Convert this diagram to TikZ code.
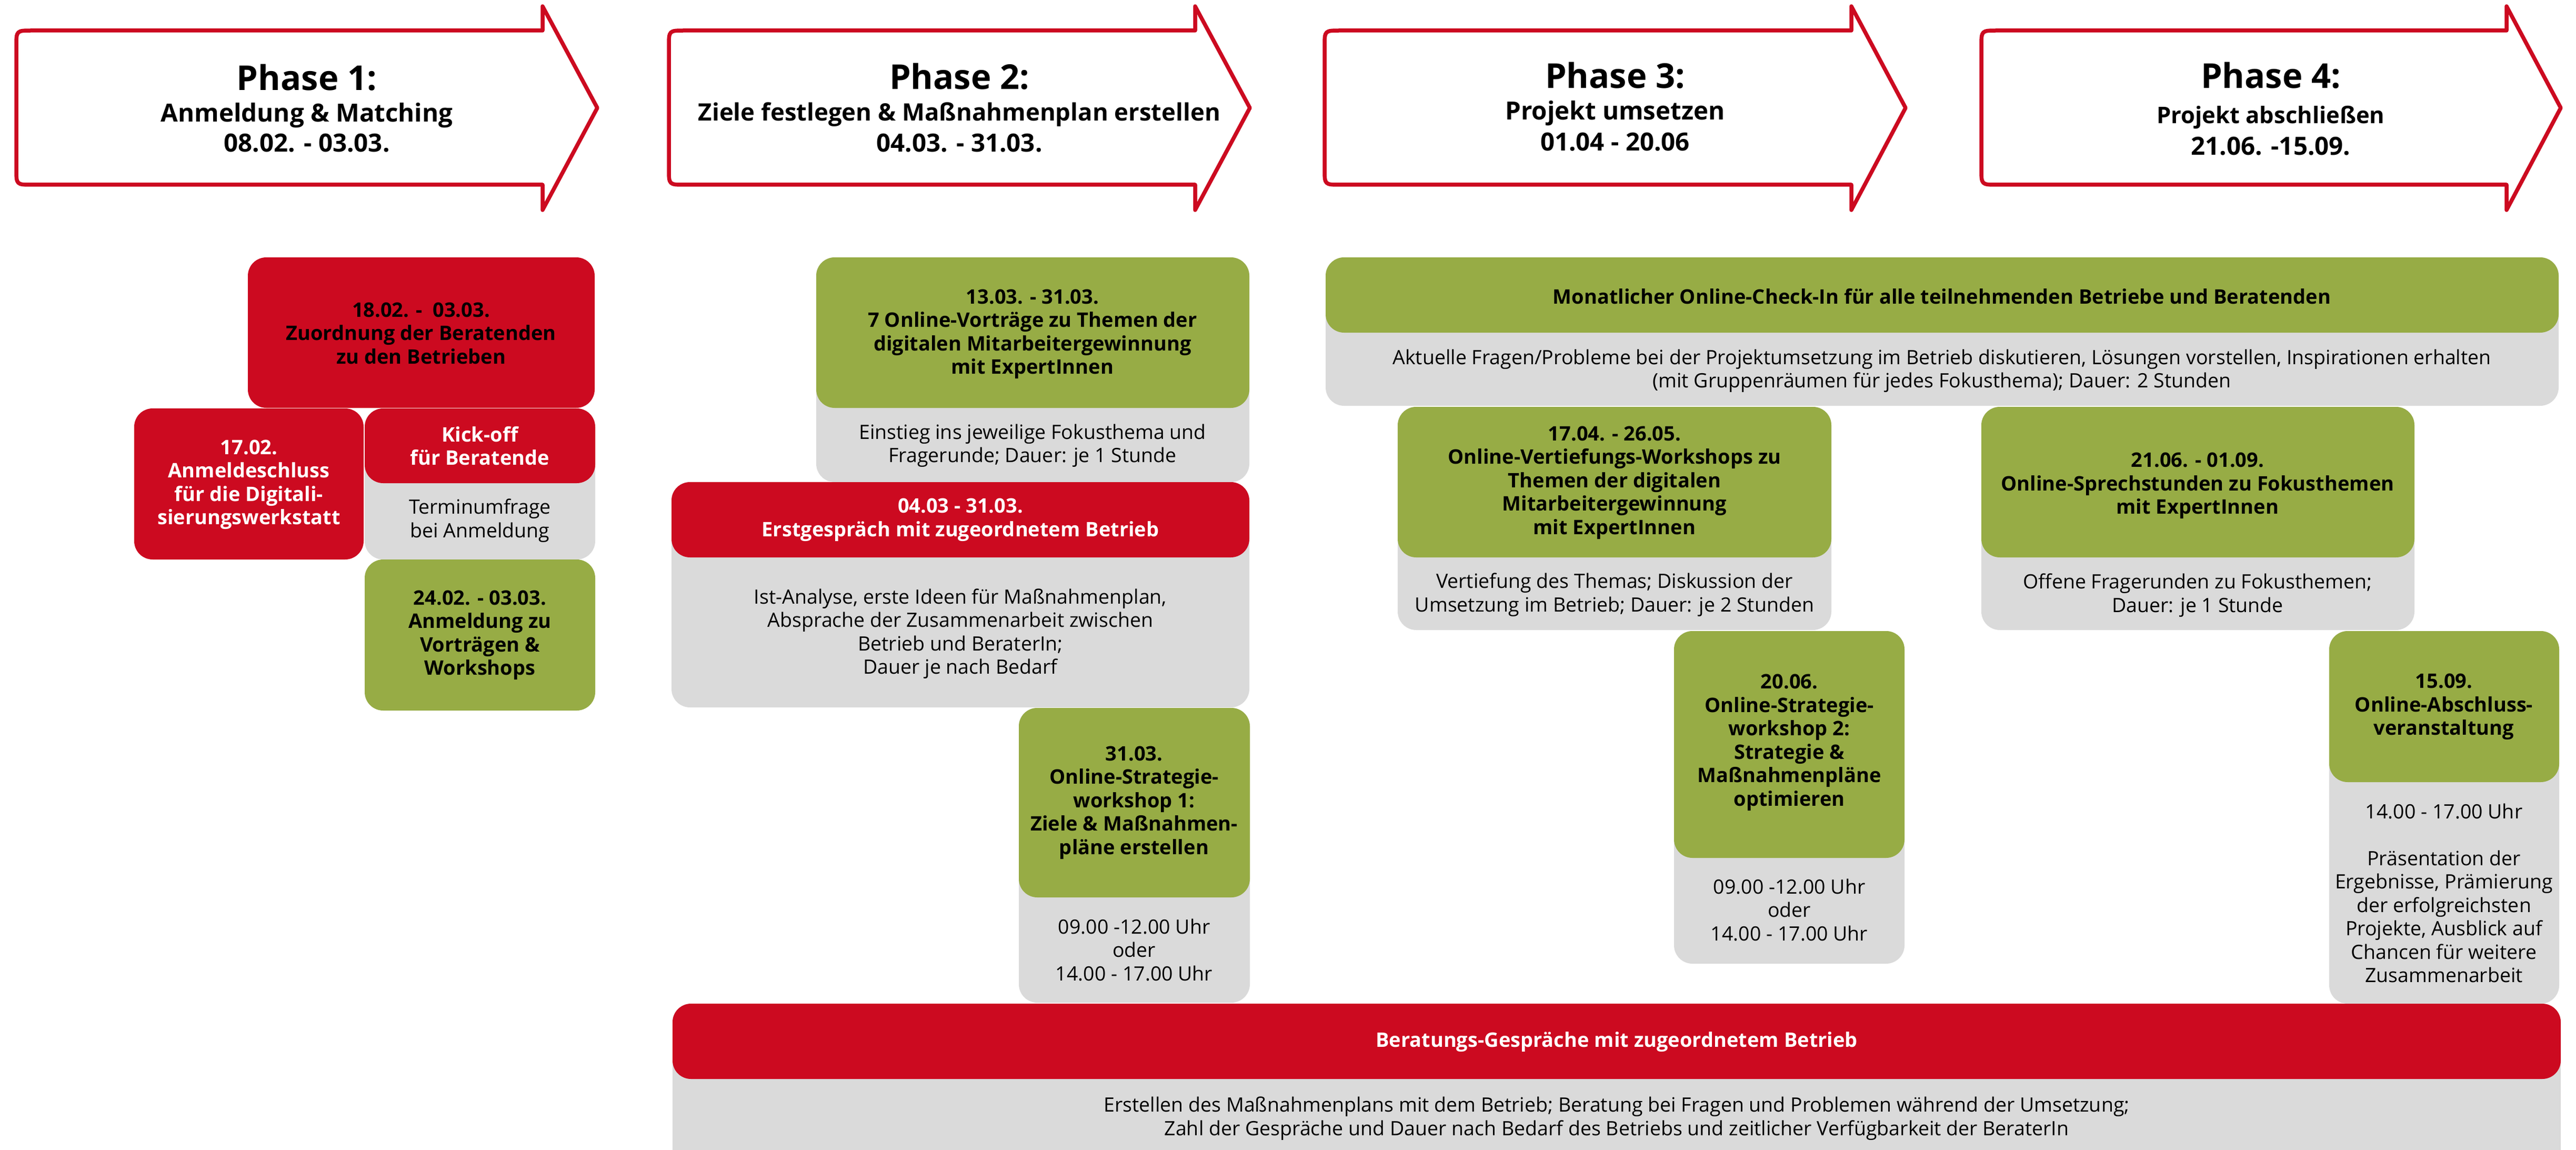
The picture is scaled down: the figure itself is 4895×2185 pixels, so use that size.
\documentclass[tikz,border=0pt]{standalone}
\usepackage{fontspec}
\setmainfont{Open Sans}
\definecolor{cred}{RGB}{204,10,32}
\definecolor{cgreen}{RGB}{151,172,69}
\definecolor{cgrey}{RGB}{218,218,218}
\newcommand\fsbody{\fontsize{7.6}{8.9}\selectfont}
\newcommand\fsplain{\fontsize{7.5}{8.9}\selectfont}
\newcommand\fstitle{\fontsize{13}{15}\selectfont}
\newcommand\fssub{\fontsize{9.5}{11}\selectfont}
\newcommand\fssubm{\fontsize{9.1}{11}\selectfont}
\newcommand\fssubs{\fontsize{8.7}{10}\selectfont}
\begin{document}
\begin{tikzpicture}[x=0.2pt,y=-0.2pt,
  arrowline/.style={draw=cred,line width=1.5pt,line join=round,fill=white},
  redbox/.style={fill=cred,rounded corners=7pt},
  greenbox/.style={fill=cgreen,rounded corners=7pt},
  greybox/.style={fill=cgrey,rounded corners=7pt},
  boldtxt/.style={align=center,font=\fsbody\bfseries,inner sep=0pt,text=black},
  whitetxt/.style={align=center,font=\fsbody\bfseries,inner sep=0pt,text=white},
  plaintxt/.style={align=center,font=\fsplain,inner sep=0pt,text=black},
  ptitle/.style={anchor=base,font=\fstitle\bfseries,inner sep=0pt},
  psub/.style={anchor=base,font=\fssub\bfseries,inner sep=0pt},
  psubm/.style={anchor=base,font=\fssubm\bfseries,inner sep=0pt},
  psubs/.style={anchor=base,font=\fssubs\bfseries,inner sep=0pt}]
\useasboundingbox (0,0) rectangle (4895,2185);
\clip (0,0) rectangle (4895,2185);

% ---------- phase arrows ----------
\draw[arrowline] (1031,58) -- (1031,12) -- (1135,205) -- (1031,399) -- (1031,351) -- (61,351) .. controls (31,351) .. (31,321) -- (31,88) .. controls (31,58) .. (61,58) -- cycle;
\draw[arrowline] (2271,58) -- (2271,12) -- (2375,205) -- (2271,399) -- (2271,351) -- (1301,351) .. controls (1271,351) .. (1271,321) -- (1271,88) .. controls (1271,58) .. (1301,58) -- cycle;
\draw[arrowline] (3518,58) -- (3518,12) -- (3621,205) -- (3518,399) -- (3518,351) -- (2547,351) .. controls (2517,351) .. (2517,321) -- (2517,88) .. controls (2517,58) .. (2547,58) -- cycle;
\draw[arrowline] (4763,58) -- (4763,12) -- (4866,205) -- (4763,399) -- (4763,351) -- (3795,351) .. controls (3765,351) .. (3765,321) -- (3765,88) .. controls (3765,58) .. (3795,58) -- cycle;

\node[ptitle] (p1t) at (583,172) {Phase 1:};
\node[psub]   (p1s) at (583,232) {Anmeldung \& Matching};
\node[psub]   (p1d) at (583,289) {08.02. - 03.03.};
\node[ptitle] (p2t) at (1823,170) {Phase 2:};
\node[psubm]  (p2s) at (1823,230) {Ziele festlegen \& Maßnahmenplan erstellen};
\node[psub]   (p2d) at (1823,289) {04.03. - 31.03.};
\node[ptitle] (p3t) at (3069,168) {Phase 3:};
\node[psub]   (p3s) at (3069,228) {Projekt umsetzen};
\node[psub]   (p3d) at (3069,287) {01.04 - 20.06};
\node[ptitle] (p4t) at (4315,168) {Phase 4:};
\node[psubs]  (p4s) at (4315,235) {Projekt abschließen};
\node[psub]   (p4d) at (4315,295) {21.06. -15.09.};

% ---------- phase 1 ----------
\fill[redbox] (471,489) rectangle (1130,775);
\node[boldtxt] (zuord) at (800,633) {18.02. -\ \ 03.03.\\Zuordnung der Beratenden\\zu den Betrieben};

\fill[redbox] (255,776) rectangle (691,1063);
\node[whitetxt] (schluss) at (473,921) {17.02.\\Anmeldeschluss\\für die Digitali-\\sierungswerkstatt};

\fill[greybox] (693,776) rectangle (1131,1063);
\fill[redbox] (693,776) rectangle (1131,918);
\node[whitetxt] (kick) at (912,847) {Kick-off\\für Beratende};
\node[plaintxt] (kickb) at (912,989) {Terminumfrage\\bei Anmeldung};

\fill[greenbox] (693,1063) rectangle (1131,1350);
\node[boldtxt] (anm) at (912,1207) {24.02. - 03.03.\\Anmeldung zu\\Vorträgen \&\\Workshops};

% ---------- phase 2 ----------
\fill[greybox] (1551,489) rectangle (2374,916);
\fill[greenbox] (1551,489) rectangle (2374,775);
\node[boldtxt] (vortr) at (1962,635) {13.03. - 31.03.\\7 Online-Vorträge zu Themen der\\digitalen Mitarbeitergewinnung\\mit ExpertInnen};
\node[plaintxt] (vortrb) at (1962,847) {Einstieg ins jeweilige Fokusthema und\\Fragerunde; Dauer: je 1 Stunde};

\fill[greybox] (1276,916) rectangle (2374,1344);
\fill[redbox] (1276,916) rectangle (2374,1059);
\node[whitetxt] (erst) at (1825,988) {04.03 - 31.03.\\Erstgespräch mit zugeordnetem Betrieb};
\node[plaintxt] (erstb) at (1825,1204) {Ist-Analyse, erste Ideen für Maßnahmenplan,\\Absprache der Zusammenarbeit zwischen\\Betrieb und BeraterIn;\\Dauer je nach Bedarf};

\fill[greybox] (1936,1345) rectangle (2375,1905);
\fill[greenbox] (1936,1345) rectangle (2375,1705);
\node[boldtxt] (sw1) at (2155,1525) {31.03.\\Online-Strategie-\\workshop 1:\\Ziele \& Maßnahmen-\\pläne erstellen};
\node[plaintxt] (sw1b) at (2155,1805) {09.00 -12.00 Uhr\\oder\\14.00 - 17.00 Uhr};

% ---------- phase 3 ----------
\fill[greybox] (2519,489) rectangle (4862,771);
\fill[greenbox] (2519,489) rectangle (4862,632);
\node[boldtxt] (check) at (3690,563) {Monatlicher Online-Check-In für alle teilnehmenden Betriebe und Beratenden};
\node[plaintxt] (checkb) at (3690,705) {Aktuelle Fragen/Probleme bei der Projektumsetzung im Betrieb diskutieren, Lösungen vorstellen, Inspirationen erhalten\\(mit Gruppenräumen für jedes Fokusthema); Dauer: 2 Stunden};

\fill[greybox] (2656,773) rectangle (3480,1197);
\fill[greenbox] (2656,773) rectangle (3480,1059);
\node[boldtxt] (vert) at (3068,917) {17.04. - 26.05.\\Online-Vertiefungs-Workshops zu\\Themen der digitalen\\Mitarbeitergewinnung\\mit ExpertInnen};
\node[plaintxt] (vertb) at (3068,1130) {Vertiefung des Themas; Diskussion der\\Umsetzung im Betrieb; Dauer: je 2 Stunden};

\fill[greybox] (3181,1199) rectangle (3619,1831);
\fill[greenbox] (3181,1199) rectangle (3619,1630);
\node[boldtxt] (sw2) at (3400,1411) {20.06.\\Online-Strategie-\\workshop 2:\\Strategie \&\\Maßnahmenpläne\\optimieren};
\node[plaintxt] (sw2b) at (3400,1729) {09.00 -12.00 Uhr\\oder\\14.00 - 17.00 Uhr};

% ---------- phase 4 ----------
\fill[greybox] (3765,773) rectangle (4588,1197);
\fill[greenbox] (3765,773) rectangle (4588,1059);
\node[boldtxt] (sprech) at (4176,923) {21.06. - 01.09.\\Online-Sprechstunden zu Fokusthemen\\mit ExpertInnen};
\node[plaintxt] (sprechb) at (4176,1131) {Offene Fragerunden zu Fokusthemen;\\Dauer: je 1 Stunde};

\fill[greybox] (4426,1199) rectangle (4863,1907);
\fill[greenbox] (4426,1199) rectangle (4863,1486);
\node[boldtxt] (absch) at (4644,1343) {15.09.\\Online-Abschluss-\\veranstaltung};
\node[plaintxt] (abschb) at (4644,1697) {14.00 - 17.00 Uhr\\[8.9pt]Präsentation der\\Ergebnisse, Prämierung\\der erfolgreichsten\\Projekte, Ausblick auf\\Chancen für weitere\\Zusammenarbeit};

% ---------- bottom bar ----------
\fill[greybox] (1278,1907) rectangle (4866,2240);
\fill[redbox] (1278,1907) rectangle (4866,2050);
\node[whitetxt] (ber) at (3072,1980) {Beratungs-Gespräche mit zugeordnetem Betrieb};
\node[plaintxt] (berb) at (3072,2125) {Erstellen des Maßnahmenplans mit dem Betrieb; Beratung bei Fragen und Problemen während der Umsetzung;\\Zahl der Gespräche und Dauer nach Bedarf des Betriebs und zeitlicher Verfügbarkeit der BeraterIn};
\end{tikzpicture}
\end{document}
